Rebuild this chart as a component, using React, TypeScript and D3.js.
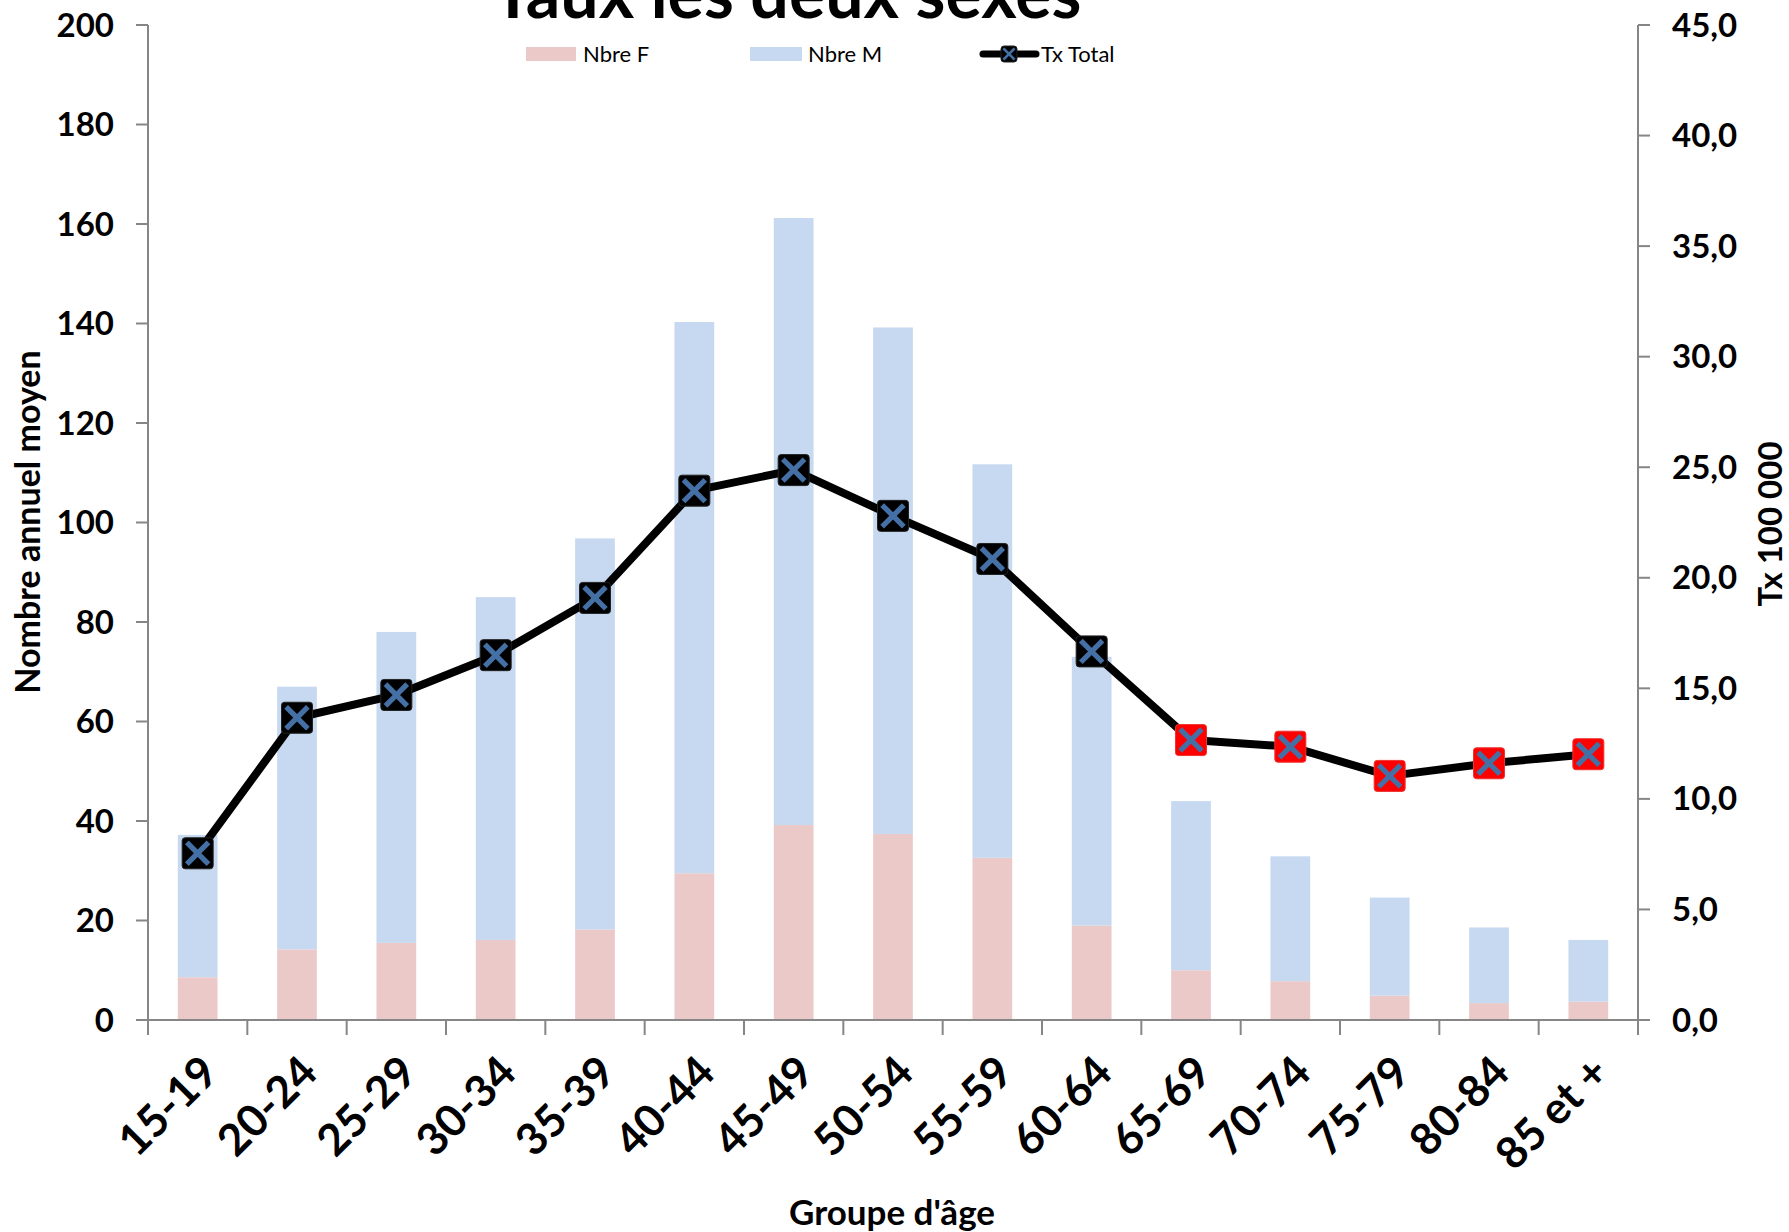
import React from "react";
import * as d3 from "d3";

// age groups and values
const ageGroups = ["15-19", "20-24", "25-29", "30-34", "35-39", "40-44", "45-49", "50-54", "55-59", "60-64", "65-69", "70-74", "75-79", "80-84", "85 et +"];
const nbreF = [8.6, 14.2, 15.5, 16.1, 18.2, 29.5, 39.2, 37.4, 32.6, 19.0, 10.0, 7.8, 4.9, 3.4, 3.7];
const nbreM = [28.6, 52.8, 62.5, 68.9, 78.6, 110.8, 122.0, 101.8, 79.1, 54.0, 34.0, 25.1, 19.7, 15.2, 12.4];
const txTotal = [7.54, 13.67, 14.7, 16.5, 19.09, 23.94, 24.87, 22.8, 20.85, 16.67, 12.66, 12.36, 11.04, 11.61, 12.02];
// groups from which the rate marker is highlighted in red
const highlightFrom = "65-69";

const leftTicks = [0, 20, 40, 60, 80, 100, 120, 140, 160, 180, 200];
const rightTicks = [0, 5, 10, 15, 20, 25, 30, 35, 40, 45];

const W = 1789, H = 1232;
const FONT = "Lato, 'Open Sans', sans-serif";
const colF = "#ecc9c9";
const colM = "#c6d9f0";
const axisCol = "#868686";
const xBlue = "#4470a5";

const frLocale = d3.formatLocale({ decimal: ",", thousands: " ", grouping: [3], currency: ["", "€"] });
const fmt1 = frLocale.format(".1f");

function Marker({ x, y, fill, size }: { x: number; y: number; fill: string; size: number }) {
  const h = size / 2;
  const a = h * 0.7;
  return (
    <g transform={`translate(${x},${y})`}>
      <rect x={-h} y={-h} width={size} height={size} rx={3} fill={fill} stroke={fill === "black" ? "#222" : "#e33"} strokeWidth={1} />
      <line x1={-a} y1={-a} x2={a} y2={a} stroke={xBlue} strokeWidth={size * 0.17} />
      <line x1={-a} y1={a} x2={a} y2={-a} stroke={xBlue} strokeWidth={size * 0.17} />
    </g>
  );
}

export default function App() {
  const left = 148, right = 1638, top = 25, bottom = 1020;
  const x = d3.scaleBand<string>().domain(ageGroups).range([left, right]).paddingInner(0.6).paddingOuter(0.3);
  const yL = d3.scaleLinear().domain([0, 200]).range([bottom, top]);
  const yR = d3.scaleLinear().domain([0, 45]).range([bottom, top]);
  const step = x.step();
  const bw = x.bandwidth();
  const cx = (c: string) => (x(c) as number) + bw / 2;
  const boundaries = ageGroups.map((c) => cx(c) - step / 2).concat([right]);

  const line = d3
    .line<number>()
    .x((_, i) => cx(ageGroups[i]))
    .y((d) => yR(d));
  const redIdx = ageGroups.indexOf(highlightFrom);

  return (
    <svg width={W} height={H} style={{ position: "absolute", left: 0, top: 0, background: "#fff" }} fontFamily={FONT}>
      {/* bars */}
      {ageGroups.map((c, i) => (
        <g key={c}>
          <rect x={x(c)} y={yL(nbreF[i])} width={bw} height={yL(0) - yL(nbreF[i])} fill={colF} />
          <rect x={x(c)} y={yL(nbreF[i] + nbreM[i])} width={bw} height={yL(nbreF[i]) - yL(nbreF[i] + nbreM[i])} fill={colM} />
        </g>
      ))}

      {/* axes */}
      <line x1={left} x2={left} y1={top} y2={bottom} stroke={axisCol} strokeWidth={2} />
      <line x1={right} x2={right} y1={top} y2={bottom} stroke={axisCol} strokeWidth={2} />
      <line x1={left} x2={right} y1={bottom} y2={bottom} stroke={axisCol} strokeWidth={2} />
      {leftTicks.map((t) => (
        <g key={"l" + t}>
          <line x1={left - 12} x2={left} y1={yL(t)} y2={yL(t)} stroke={axisCol} strokeWidth={2} />
          <text x={114} y={yL(t)} dy="0.35em" textAnchor="end" fontSize={33} fontWeight={700}>{t}</text>
        </g>
      ))}
      {rightTicks.map((t) => (
        <g key={"r" + t}>
          <line x1={right} x2={right + 12} y1={yR(t)} y2={yR(t)} stroke={axisCol} strokeWidth={2} />
          <text x={1672} y={yR(t)} dy="0.35em" textAnchor="start" fontSize={33} fontWeight={700}>{fmt1(t)}</text>
        </g>
      ))}
      {boundaries.map((b, i) => (
        <line key={"b" + i} x1={b} x2={b} y1={bottom} y2={bottom + 15} stroke={axisCol} strokeWidth={2} />
      ))}
      {ageGroups.map((c) => (
        <text key={"t" + c} transform={`translate(${cx(c) + 12},${bottom + 44}) rotate(-45)`} textAnchor="end" dy="0.35em" fontSize={44} fontWeight={700}>
          {c}
        </text>
      ))}

      {/* rate line */}
      <path d={line(txTotal) || ""} fill="none" stroke="black" strokeWidth={8} strokeLinejoin="round" />
      {txTotal.map((v, i) => (
        <Marker key={"m" + i} x={cx(ageGroups[i])} y={yR(v)} fill={i >= redIdx ? "#ff0000" : "black"} size={31} />
      ))}

      {/* titles */}
      <text x={787} y={18} textAnchor="middle" fontSize={68} fontWeight={700}>Taux les deux sexes</text>
      <text transform={`translate(40,522) rotate(-90)`} textAnchor="middle" fontSize={34} fontWeight={700}>Nombre annuel moyen</text>
      <text transform={`translate(1782,524) rotate(-90)`} textAnchor="middle" fontSize={33} fontWeight={700}>Tx 100 000</text>
      <text x={892} y={1225} textAnchor="middle" fontSize={35} fontWeight={700}>Groupe d'âge</text>

      {/* legend */}
      <rect x={526} y={47} width={50} height={14} fill={colF} />
      <text x={583} y={54} dy="0.35em" fontSize={22}>Nbre F</text>
      <rect x={750} y={47} width={52} height={14} fill={colM} />
      <text x={808} y={54} dy="0.35em" fontSize={22}>Nbre M</text>
      <line x1={983} x2={1036} y1={54} y2={54} stroke="black" strokeWidth={7} strokeLinecap="round" />
      <Marker x={1009} y={54} fill="black" size={16} />
      <text x={1041} y={54} dy="0.35em" fontSize={22}>Tx Total</text>
    </svg>
  );
}
